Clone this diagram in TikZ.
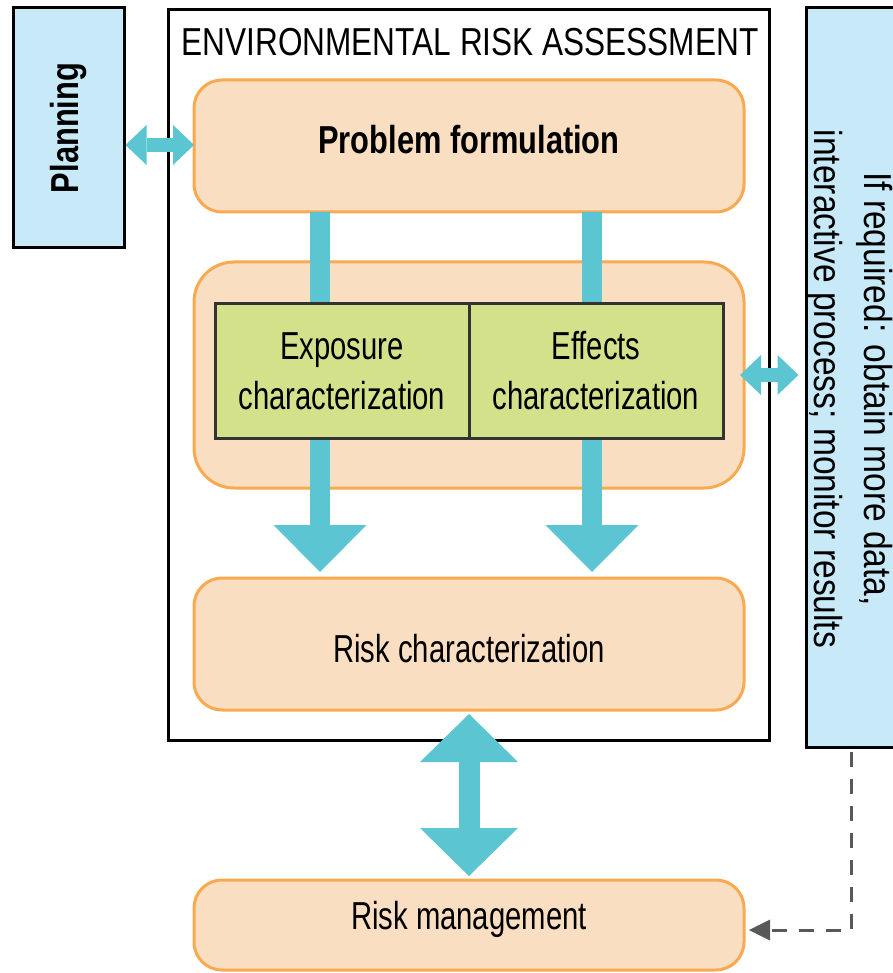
\documentclass[tikz,border=0pt]{standalone}
\usepackage{fontspec}
\setmainfont{Liberation Sans}[FakeStretch=0.75,BoldFeatures={FakeStretch=0.79}]
\newfontfamily\titlefont{Liberation Sans}[FakeStretch=0.81]
\newfontfamily\notefont{Liberation Sans}[FakeStretch=0.86]
\usetikzlibrary{arrows.meta,positioning}

\definecolor{arrowteal}{HTML}{5BC5D1}
\definecolor{boxorange}{HTML}{F9A94F}
\definecolor{boxpeach}{HTML}{F9DEC2}
\definecolor{boxgreen}{HTML}{D3E18A}
\definecolor{noteblue}{HTML}{C7E9F8}
\definecolor{dashgray}{HTML}{595959}

\begin{document}
\begin{tikzpicture}[x=1pt,y=-1pt,font=\fontsize{39}{50}\selectfont]
		\tikzstyle{frame}=[rectangle, draw=black, line width=3pt, fill=white]
		\tikzstyle{side}=[rectangle, draw=black, line width=3pt, fill=noteblue]
		\tikzstyle{stage}=[rectangle, rounded corners=28pt, draw=boxorange, line width=3pt, fill=boxpeach, minimum width=550pt, outer sep=0pt]
		\tikzstyle{part}=[rectangle, draw=black!80, line width=3pt, fill=boxgreen, minimum width=254pt, minimum height=135pt, align=center, inner sep=0pt, outer sep=0pt]
		\tikzstyle{flow}=[arrowteal, line width=20pt, -{Triangle[width=93pt,length=47pt,line width=0pt]}]
		\tikzstyle{bigflow}=[arrowteal, line width=21pt, {Triangle[width=98pt,length=48pt,line width=0pt]}-{Triangle[width=98pt,length=48pt,line width=0pt]}]
		\tikzstyle{link}=[arrowteal, line width=14pt, {Triangle[width=40pt,length=21pt,line width=0pt]}-{Triangle[width=40pt,length=21pt,line width=0pt]}]
		\tikzstyle{feedback}=[dashgray, line width=3pt, dash pattern=on 15pt off 12pt, -{Triangle[width=21pt,length=21pt,line width=0pt]}]

		\useasboundingbox (0,0) rectangle (892,973);

		\node [frame, minimum width=601pt, minimum height=730pt] (era) at (468.5,375) {};
		\node [font=\titlefont\fontsize{39}{50}\selectfont] (title) at (470,42) {ENVIRONMENTAL RISK ASSESSMENT};
		\node [side, rotate=90, minimum width=240pt, minimum height=111pt] (planning) at (68.5,128) {\textbf{Planning}};
		\node [side, minimum width=90pt, minimum height=739pt] (note) at (851,377.5) {};
		\node [rotate=-90, align=center, font=\notefont\fontsize{39}{50}\selectfont] (notetext) at (850,389) {If required: obtain more data,\\interactive process; monitor results};

		\node [stage, minimum height=132pt] (pf) at (469,146) {\raisebox{6pt}[\height][\depth]{\textbf{Problem formulation}}};
		\node [stage, rounded corners=40pt, minimum height=226pt] (mid) [below=50pt of pf] {};
		\node [stage, minimum height=132pt] (rc) [below=90pt of mid] {\raisebox{-5pt}[\height][\depth]{Risk characterization}};
		\node [stage, minimum height=90pt] (rm) [below=170pt of rc] {\raisebox{6pt}[\height][\depth]{Risk management}};

		% arrows run behind the two characterization boxes
		\draw [flow] (pf.south -| 320,0) -- ([yshift=6pt]rc.north -| 320,0);
		\draw [flow] (pf.south -| 592,0) -- ([yshift=6pt]rc.north -| 592,0);

		\node [part, yshift=4pt] (expo) [left=0pt of mid.center] {Exposure\\characterization};
		\node [part, yshift=4pt] (effe) [right=0pt of mid.center] {Effects\\characterization};

		\draw [link] ([yshift=1pt]planning.south |- pf.west) -- ([yshift=1pt]pf.west);
		\draw [link] ([xshift=-4pt]mid.east) -- ([xshift=-6pt]note.west |- mid.east);
		\draw [bigflow] ([yshift=-4pt]rc.south) -- ([yshift=4pt]rm.north);
		\draw [feedback] ([yshift=-3pt]note.south) |- ([yshift=-5pt,xshift=5pt]rm.east);
\end{tikzpicture}
\end{document}
